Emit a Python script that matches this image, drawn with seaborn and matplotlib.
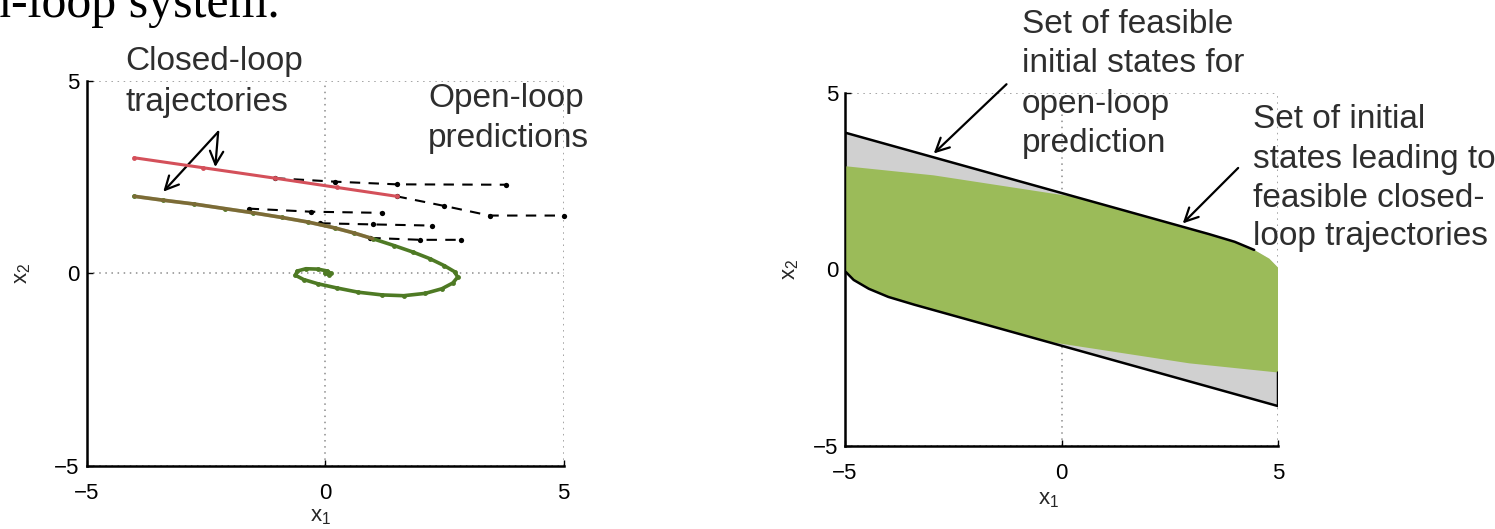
import matplotlib
matplotlib.use("Agg")
import matplotlib.pyplot as plt
import pandas as pd
import seaborn as sns

# ---- left panel: closed-loop trajectories and open-loop predictions ----
red_x = [-4.0, -2.55, -1.05, 0.25, 1.5]
red_y = [3.0, 2.74, 2.47, 2.23, 2.0]

green_x = [-4.0, -3.4, -2.75, -2.1, -1.5, -0.9, -0.35, 0.2, 0.6, 1.0, 1.45, 1.85,
           2.2, 2.5, 2.72, 2.78, 2.68, 2.45, 2.1, 1.65, 1.2, 0.7, 0.25, -0.15,
           -0.45, -0.62, -0.58, -0.4, -0.15, 0.05, 0.12, 0.08, 0.0]
green_y = [2.0, 1.9, 1.8, 1.68, 1.57, 1.45, 1.33, 1.18, 1.05, 0.9, 0.72, 0.55,
           0.38, 0.2, 0.04, -0.1, -0.25, -0.4, -0.52, -0.58, -0.56, -0.49, -0.38, -0.27,
           -0.16, -0.05, 0.06, 0.12, 0.11, 0.06, 0.0, -0.03, 0.0]

pred_x = [[-1.05, 0.2, 1.5, 3.8],
          [1.5, 2.5, 3.45, 5.0],
          [-1.6, -0.3, 1.2],
          [-0.1, 1.0, 2.25],
          [0.95, 2.0, 2.85]]
pred_y = [[2.47, 2.38, 2.31, 2.3],
          [2.0, 1.75, 1.5, 1.5],
          [1.68, 1.6, 1.57],
          [1.3, 1.27, 1.24],
          [0.92, 0.87, 0.87]]

# ---- right panel: feasible sets of initial states ----
open_set_x = [5.0, -3.4, -4.0, -4.45, -4.8, -5.0, -5.0, 3.4, 4.0, 4.45, 4.8, 5.0]
open_set_y = [-3.87, -1.0, -0.78, -0.55, -0.3, -0.05, 3.87, 1.0, 0.78, 0.55, 0.3, 0.05]

closed_set_x = [-5.0, -2.95, 0.3, 3.4, 4.0, 4.45, 4.8, 5.0, 5.0, 2.95, -0.3, -3.4, -4.0, -4.45, -4.8, -5.0]
closed_set_y = [2.92, 2.66, 2.05, 1.0, 0.78, 0.55, 0.3, 0.05, -2.92, -2.66, -2.05, -1.0, -0.78, -0.55, -0.3, -0.05]

ticks = [-5, 0, 5]
tick_labels = ["\u22125", "0", "5"]

left_notes = [("Closed-loop", 125, 70), ("trajectories", 125, 111),
              ("Open-loop", 428, 107), ("predictions", 428, 147)]
right_notes = [("Set of feasible", 1022, 33), ("initial states for", 1022, 72),
               ("open-loop", 1022, 113), ("prediction", 1022, 152),
               ("Set of initial", 1253, 128), ("states leading to", 1253, 168),
               ("feasible closed-", 1253, 207), ("loop trajectories", 1253, 245)]

RED = "#d4505a"
GREEN = "#4e7a24"
FILL_GREEN = "#9bbb59"
FILL_GRAY = "#d0d0d0"
TXT = "#2e2e2e"

sns.set_style("white")
plt.rcParams["font.family"] = ["Liberation Sans", "DejaVu Sans"]
plt.rcParams["mathtext.default"] = "regular"

W, H = 1495, 529
fig = plt.figure(figsize=(W / 100, H / 100), dpi=100)
axL = fig.add_axes([86.5 / W, 1 - 466 / H, 477 / W, 385.3 / H])
axR = fig.add_axes([845 / W, 1 - 446 / H, 433 / W, 353.3 / H])

for ax in (axL, axR):
    ax.set_xlim(-5, 5)
    ax.set_ylim(-5, 5)
    ax.set_xticks(ticks)
    ax.set_yticks(ticks)
    ax.set_xticklabels(tick_labels)
    ax.set_yticklabels(tick_labels)
    ax.set_axisbelow(True)
    ax.grid(True, linestyle=(0, (1, 3)), color="#8c8c8c", linewidth=1.1)
    for side in ("top", "right"):
        ax.spines[side].set_visible(False)
    for side in ("left", "bottom"):
        ax.spines[side].set_color("black")
        ax.spines[side].set_linewidth(1.8)
    ax.tick_params(axis="both", direction="in", length=4, width=1, labelsize=16,
                   colors="black", left=True, bottom=True)
    ax.tick_params(axis="x", pad=12.5)
    ax.tick_params(axis="y", pad=5)
    ax.set_xlabel(r"x$_1$", fontsize=16)
    ax.set_ylabel(r"x$_2$", fontsize=16, va="center", ha="center")

axL.xaxis.set_label_coords(0.49, -0.104)
axL.yaxis.set_label_coords(-0.135, 0.5)
axR.xaxis.set_label_coords(0.47, -0.122)
axR.yaxis.set_label_coords(-0.127, 0.5)

# ---- left panel drawing ----
pred_df = pd.DataFrame({
    "x": [v for xs in pred_x for v in xs],
    "y": [v for ys in pred_y for v in ys],
    "run": [i for i, xs in enumerate(pred_x) for _ in xs],
})
sns.lineplot(data=pred_df, x="x", y="y", units="run", estimator=None, sort=False,
             color="black", linewidth=1.5, linestyle=(0, (5, 4)), marker="o",
             markersize=3.8, markeredgewidth=0, ax=axL, zorder=3, clip_on=False)

sns.lineplot(x=red_x, y=red_y, sort=False, estimator=None, color=RED, linewidth=2.2,
             marker="o", markersize=3.5, markeredgewidth=0, ax=axL, zorder=4)
sns.lineplot(x=green_x, y=green_y, sort=False, estimator=None, color=GREEN, linewidth=2.6,
             marker="o", markersize=3.5, markeredgewidth=0, ax=axL, zorder=4)
sns.lineplot(x=green_x[:10], y=green_y[:10], sort=False, estimator=None, color=RED,
             linewidth=2.6, alpha=0.35, ax=axL, zorder=5)

arrow = dict(arrowstyle="->", lw=1.6, color="black", mutation_scale=24, shrinkA=0, shrinkB=0)
axL.annotate("", xy=(-2.3, 2.76), xytext=(-2.24, 3.67), arrowprops=arrow, annotation_clip=False)
axL.annotate("", xy=(-3.39, 2.12), xytext=(-2.24, 3.67), arrowprops=arrow, annotation_clip=False)

# ---- right panel drawing ----
axR.fill(open_set_x, open_set_y, color=FILL_GRAY, linewidth=0, zorder=2)
axR.fill(closed_set_x, closed_set_y, color=FILL_GREEN, linewidth=0, zorder=3)
edge_x = [closed_set_x[8]] + open_set_x[:10]
edge_y = [closed_set_y[8]] + open_set_y[:10]
sns.lineplot(x=edge_x, y=edge_y, sort=False, estimator=None, color="black",
             linewidth=1.8, ax=axR, zorder=4)

axR.annotate("", xy=(-2.95, 3.28), xytext=(-1.27, 5.24), arrowprops=arrow, annotation_clip=False)
axR.annotate("", xy=(2.8, 1.3), xytext=(4.08, 2.87), arrowprops=arrow, annotation_clip=False)

# ---- text ----
for txt, px, py in left_notes + right_notes:
    fig.text(px / W, 1 - py / H, txt, fontsize=24, color=TXT, ha="left", va="baseline")

fig.text(-14 / W, 1 - 17 / H, "n-loop system.", fontsize=36, color="black",
         family=["Liberation Serif", "DejaVu Serif"], ha="left", va="baseline")

fig.savefig("out.png", dpi=100)
